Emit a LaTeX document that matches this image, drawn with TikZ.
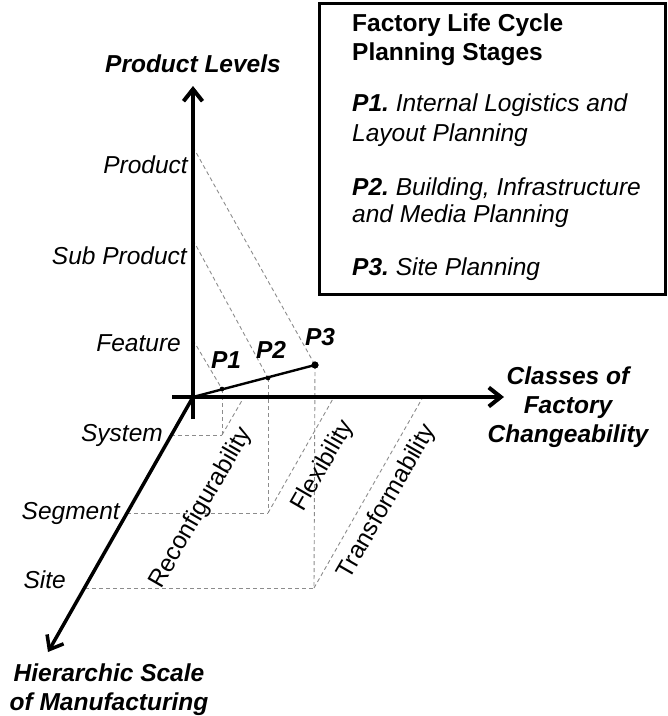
\documentclass[tikz,border=0pt]{standalone}
\usepackage{fontspec}
\setmainfont{Liberation Sans}
\usetikzlibrary{arrows.meta}
\begin{document}
\fontsize{24.5}{29}\selectfont
\begin{tikzpicture}[x=1pt,y=-1pt,
  axisline/.style={line width=4pt,-{Straight Barb[length=12pt,width=19pt]}},
  guide/.style={black!45,dash pattern=on 4pt off 3pt,line width=0.9pt},
  lvl/.style={font=\itshape,anchor=east,inner sep=0pt},
  cls/.style={rotate=60,inner sep=0pt},
  ttl/.style={font=\bfseries\itshape,align=center,inner sep=0pt},
  pl/.style={font=\bfseries\itshape,inner sep=0pt},
  dot/.style={circle,fill=black,inner sep=0pt,minimum size=#1},
  boxline/.style={anchor=base west,inner sep=0pt},
]
\useasboundingbox (0,0) rectangle (668,716);

% axis coordinates
\coordinate (O) at (193,397);
\coordinate (vb) at (193,419);
\coordinate (vt) at (193,86);
\coordinate (hb) at (172,397);
\coordinate (ht) at (504,397);
\coordinate (dt) at (48,652);

% level points on vertical axis
\coordinate (Lf) at (193,340);
\coordinate (Lsp) at (193,240);
\coordinate (Lp) at (193,147);
% depth points on diagonal axis
\coordinate (Sy) at (171,435);
\coordinate (Se) at (127,513);
\coordinate (Si) at (85,588);
% corners
\coordinate (C1) at (222,435);
\coordinate (C2) at (268,513);
\coordinate (C3) at (314,588);
% class ticks on horizontal axis
\coordinate (R) at (244,397);
\coordinate (F) at (334,397);
\coordinate (T) at (423,397);

% planning points
\node[dot=4.5pt] (P1) at (222,389) {};
\node[dot=4.5pt] (P2) at (268,378) {};
\node[dot=7pt] (P3) at (315,365) {};

% guides
\draw[guide] (Lf) -- (P1.center);
\draw[guide] (Lsp) -- (P2.center);
\draw[guide] (Lp) -- (P3.center);
\draw[guide] (P1.center) -- (C1);
\draw[guide] (P2.center) -- (C2);
\draw[guide] (P3.center) -- (C3);
\draw[guide] (Sy) -- (C1);
\draw[guide] (Se) -- (C2);
\draw[guide] (Si) -- (C3);
\draw[guide] (C1) -- (R);
\draw[guide] (C2) -- (F);
\draw[guide] (C3) -- (T);

% axes
\draw[axisline] (vb) -- (vt);
\draw[axisline] (hb) -- (ht);
\draw[axisline,line width=3.5pt] (O) -- (dt);

\draw[line width=2.4pt] (O) -- (P3.center);
\node[dot=4.5pt] at (P1) {};
\node[dot=4.5pt] at (P2) {};
\node[dot=7pt] at (P3) {};

\node[pl] (p1l) at (226,360) {P1};
\node[pl] (p2l) at (271,350) {P2};
\node[pl] (p3l) at (320,337) {P3};

% level labels
\node[lvl] (prod) at (188,165) {Product};
\node[lvl] (subp) at (187,256) {Sub Product};
\node[lvl] (feat) at (181,343) {Feature};
\node[lvl] (sys) at (163,435) {System};
\node[lvl] (seg) at (120,513) {Segment};
\node[lvl] (site) at (66,580) {Site};

% class labels
\node[cls] (reconf) at (201,508) {Reconfigurability};
\node[cls] (flex) at (323,466) {Flexibility};
\node[cls] (trans) at (387,502) {Transformability};

% axis titles
\node[ttl] (tprod) at (193,64) {Product Levels};
\node[ttl] (thier) at (109,690) {Hierarchic Scale\\of Manufacturing};
\node[ttl] (tcls) at (568,407) {Classes of\\Factory\\Changeability};

% legend box
\draw[line width=3pt] (319,3) rectangle (665,294);
\node[boxline,font=\bfseries] (b1) at (352,31) {Factory Life Cycle};
\node[boxline,font=\bfseries] (b2) at (352,60) {Planning Stages};
\node[boxline] (b3) at (352,111) {\textbf{\itshape P1.}\ \itshape Internal Logistics and};
\node[boxline,font=\itshape] (b4) at (352,141) {Layout Planning};
\node[boxline] (b5) at (352,195) {\textbf{\itshape P2.}\ \itshape Building, Infrastructure};
\node[boxline,font=\itshape] (b6) at (352,222) {and Media Planning};
\node[boxline] (b7) at (352,275) {\textbf{\itshape P3.}\ \itshape Site Planning};
\end{tikzpicture}
\end{document}
